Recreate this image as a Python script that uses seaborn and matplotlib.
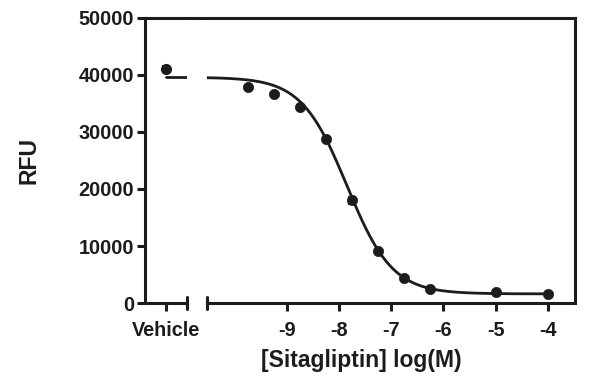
import numpy as np
import pandas as pd
from matplotlib import pyplot as plt
from matplotlib.lines import Line2D
import seaborn as sns

# measured points, log(M) concentrations and RFU
log_conc = [-9.75, -9.25, -8.75, -8.25, -7.75, -7.25, -6.75, -6.25, -5.0, -4.0]
rfu = [37900, 36600, 34300, 28800, 18000, 9100, 4400, 2450, 1900, 1600]
rfu_err = [0, 0, 450, 0, 550, 0, 0, 0, 0, 0]

vehicle_rfu = 41100
vehicle_err = 500

# four parameter logistic fit
fit_top = 39600
fit_bottom = 1600
fit_log_ic50 = -7.85
fit_hill = 1.0

x_ticks = [-9, -8, -7, -6, -5, -4]
y_ticks = [0, 10000, 20000, 30000, 40000, 50000]

INK = '#1c1c1c'
LW = 2.2


def fit_curve(x):
    return fit_bottom + (fit_top - fit_bottom) / (1 + 10 ** ((x - fit_log_ic50) * fit_hill))


def style_axis(ax):
    ax.tick_params(axis='both', width=LW, length=6, color=INK, labelsize=14.3,
                   labelcolor=INK)
    ax.tick_params(axis='x', pad=7)
    ax.tick_params(axis='y', pad=2)
    for lab in ax.get_xticklabels() + ax.get_yticklabels():
        lab.set_fontweight('bold')
    for side in ax.spines.values():
        side.set_linewidth(LW)
        side.set_color(INK)


def main():
    sns.set_theme(style='ticks')
    plt.rcParams['font.family'] = ['Liberation Sans', 'DejaVu Sans']

    fig = plt.figure(figsize=(6, 3.82), dpi=100)
    bottom, height = 0.2068, 0.7461
    ax_v = fig.add_axes([145 / 600, bottom, 42 / 600, height])
    ax = fig.add_axes([207 / 600, bottom, 368 / 600, height])

    # vehicle segment
    ax_v.errorbar([0.5], [vehicle_rfu], yerr=[vehicle_err], fmt='o', color=INK,
                  markersize=7, capsize=3, elinewidth=1.5, capthick=1.5)
    veh_line = pd.DataFrame({'x': [0.5, 1.0], 'y': [fit_curve(-12), fit_curve(-12)]})
    sns.lineplot(data=veh_line, x='x', y='y', ax=ax_v, color=INK, linewidth=2)
    ax_v.set_xlim(0, 1)
    ax_v.set_ylim(0, 50000)
    ax_v.set_xticks([0.5])
    ax_v.set_xticklabels(['Vehicle'])
    ax_v.set_yticks(y_ticks)
    ax_v.set_xlabel('')
    ax_v.set_ylabel('RFU', fontsize=16.5, fontweight='bold', color=INK, labelpad=27)
    ax_v.spines['right'].set_visible(False)
    style_axis(ax_v)

    # concentration segment
    xs = np.linspace(-10.55, -4.0, 300)
    curve = pd.DataFrame({'x': xs, 'y': fit_curve(xs)})
    sns.lineplot(data=curve, x='x', y='y', ax=ax, color=INK, linewidth=2)
    ax.errorbar(log_conc, rfu, yerr=rfu_err, fmt='none', ecolor=INK,
                capsize=3, elinewidth=1.5, capthick=1.5)
    pts = pd.DataFrame({'x': log_conc, 'y': rfu})
    sns.scatterplot(data=pts, x='x', y='y', ax=ax, color=INK, s=55,
                    edgecolor=INK, linewidth=0.5, zorder=4)
    ax.set_xlim(-10.53, -3.48)
    ax.set_ylim(0, 50000)
    ax.set_xticks(x_ticks)
    ax.set_xticklabels([str(t) for t in x_ticks])
    ax.set_yticks([])
    ax.set_ylabel('')
    ax.set_xlabel('[Sitagliptin] log(M)', fontsize=16.5, fontweight='bold',
                  color=INK)
    ax.xaxis.set_label_coords((361 - 207) / 368, -0.163)
    ax.spines['left'].set_visible(False)
    style_axis(ax)

    # break caps and top bridge
    for a, xc in ((ax_v, 1.0), (ax, 0.0)):
        a.add_line(Line2D([xc, xc], [-0.02, 0.02], transform=a.transAxes,
                          color=INK, linewidth=LW, clip_on=False))
    ax_v.add_line(Line2D([1.0, 62 / 42], [1.0, 1.0], transform=ax_v.transAxes,
                         color=INK, linewidth=LW, clip_on=False))

    fig.savefig('out.png', dpi=100)


if __name__ == "__main__":
    main()
